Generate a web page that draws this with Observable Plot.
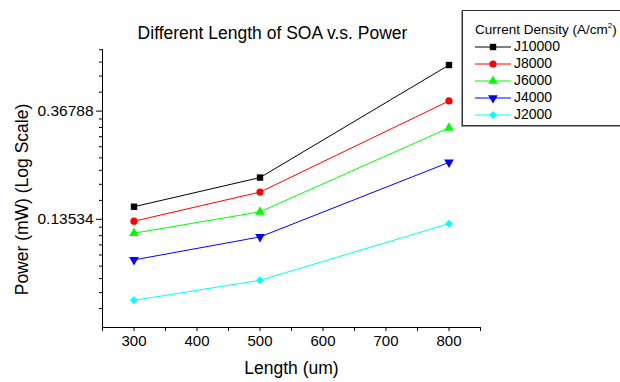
<!DOCTYPE html>
<html>
<head>
<meta charset="utf-8">
<script src="https://cdn.jsdelivr.net/npm/d3@7"></script>
<script src="https://cdn.jsdelivr.net/npm/@observablehq/plot@0.6"></script>
<style>
  html, body { margin: 0; padding: 0; background: #fff; overflow: hidden; }
  #wrap { position: relative; width: 620px; height: 382px; overflow: hidden; font-family: Arial, "Liberation Sans", sans-serif; }
  #legend { position: absolute; left: 462px; top: 10px; width: 200px; height: 116px; border: 1px solid #333; box-shadow: -1px 1px 0 #999; background: #fff; box-sizing: border-box; }
  #legend .ttl { position: absolute; left: 12px; top: 10px; font-size: 13.5px; white-space: nowrap; color: #000; }
  #legend .row { position: absolute; left: 12px; height: 16px; }
  #legend .row span { position: absolute; left: 39px; top: -1px; font-size: 14px; color: #000; }
</style>
</head>
<body>
<div id="wrap"></div>
<script>
const lengths = [300, 500, 800];
const seriesNames = ["J10000", "J8000", "J6000", "J4000", "J2000"];
const J10000 = [0.152, 0.199, 0.563];
const J8000  = [0.133, 0.174, 0.404];
const J6000  = [0.119, 0.145, 0.315];
const J4000  = [0.093, 0.115, 0.229];
const J2000  = [0.064, 0.077, 0.130];
const seriesValues = [J10000, J8000, J6000, J4000, J2000];
const colors = ["#000000", "#ff0000", "#00ff00", "#0000ff", "#00ffff"];
const xTicks = [250, 300, 350, 400, 450, 500, 550, 600, 650, 700, 750, 800, 850];
const xTickLabels = [300, 400, 500, 600, 700, 800];
const yMajorTicks = [Math.exp(-2), Math.exp(-1)];
const yMajorLabels = ["0.13534", "0.36788"];

// inverted triangle symbol
const triangleDown = {
  draw(context, size) {
    const y = -Math.sqrt(size / (Math.sqrt(3) * 3));
    context.moveTo(0, -y * 2);
    context.lineTo(-Math.sqrt(3) * y, y);
    context.lineTo(Math.sqrt(3) * y, y);
    context.closePath();
  }
};
const symbols = ["square", "circle", "triangle", triangleDown, "diamond2"];

const data = [];
seriesNames.forEach((name, i) => {
  lengths.forEach((L, j) => data.push({series: name, length: L, power: seriesValues[i][j], idx: i}));
});

// minor ticks: linear subdivisions between powers of e (9 intervals)
const yMinor = [];
for (let k = -3; k <= -1; k++) {
  const a = Math.exp(k), b = Math.exp(k + 1);
  for (let i = 1; i <= 8; i++) {
    const v = a + i * (b - a) / 9;
    if (v <= 0.651) yMinor.push(v);
  }
}

const chart = Plot.plot({
  width: 620,
  height: 382,
  marginLeft: 102,
  marginRight: 140,
  marginTop: 49,
  marginBottom: 55,
  style: {fontFamily: "Arial, 'Liberation Sans', sans-serif", fontSize: "15px", color: "#000", background: "#fff"},
  x: {domain: [250, 850]},
  y: {type: "log", base: Math.E, domain: [Math.exp(-3), 0.65]},
  color: {domain: seriesNames, range: colors},
  marks: [
    Plot.axisX({ticks: xTicks, tickSize: 4, tickFormat: d => xTickLabels.includes(d) ? String(d) : "", tickPadding: 4, fontSize: 15, label: null}),
    Plot.axisY({ticks: yMinor, tickSize: 3, tickFormat: () => "", label: null}),
    Plot.axisY({ticks: yMajorTicks, tickSize: 6, tickFormat: d => yMajorLabels[yMajorTicks.indexOf(d)], tickPadding: 3, fontSize: 15.5, label: null}),
    Plot.ruleY([Math.exp(-3)], {stroke: "#000", strokeWidth: 1}),
    Plot.ruleX([250], {stroke: "#000", strokeWidth: 1}),
    Plot.line(data, {x: "length", y: "power", z: "series", stroke: "series", strokeWidth: 1}),
    Plot.dot(data, {x: "length", y: "power", fill: "series", stroke: null, r: 3.6, symbol: d => symbols[d.idx]}),
    Plot.text(["Length (um)"], {frameAnchor: "bottom", dy: 41, fontSize: 17.5, fill: "#000", lineAnchor: "middle"}),
    Plot.text(["Power (mW) (Log Scale)"], {frameAnchor: "left", dx: -80, dy: 11, rotate: -90, textAnchor: "middle", lineAnchor: "middle", fontSize: 17.5, fill: "#000"}),
    Plot.text(["Different Length of SOA v.s. Power"], {frameAnchor: "top", dx: -19, dy: -16, fontSize: 17.5, fill: "#000", lineAnchor: "middle"})
  ]
});
chart.setAttribute("font-family", "Arial, 'Liberation Sans', sans-serif");
const wrap = document.getElementById("wrap");
wrap.appendChild(chart);

// legend
const legend = document.createElement("div");
legend.id = "legend";
legend.innerHTML = '<div class="ttl">Current Density (A/cm<sup style="font-size:8px">2</sup>)</div>';
seriesNames.forEach((name, i) => {
  const row = document.createElement("div");
  row.className = "row";
  row.style.top = (28 + i * 17) + "px";
  const sym = d3.symbol().type(typeof symbols[i] === "string" ? {square: d3.symbolSquare, circle: d3.symbolCircle, triangle: d3.symbolTriangle, diamond2: d3.symbolDiamond2}[symbols[i]] : symbols[i]).size(Math.PI * 3.6 * 3.6);
  row.innerHTML = `<svg width="38" height="16" style="position:absolute;left:0;top:0"><line x1="0" x2="36" y1="8" y2="8" stroke="${colors[i]}" stroke-width="1"/><path d="${sym()}" transform="translate(18,8)" fill="${colors[i]}"/></svg><span>${name}</span>`;
  legend.appendChild(row);
});
wrap.appendChild(legend);
</script>
</body>
</html>
